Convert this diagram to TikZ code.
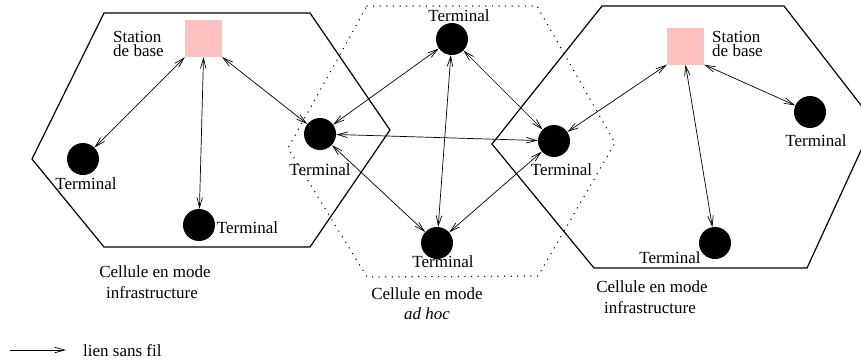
\documentclass[tikz,border=0pt]{standalone}
\usepackage{fontspec}
\setmainfont{Liberation Serif}
\usetikzlibrary{arrows.meta}
\definecolor{bspink}{RGB}{255,192,192}
\begin{document}
\begin{tikzpicture}[x=1pt,y=-1pt,
 cell/.style={line width=1.2pt, line join=miter},
 adhoc/.style={line width=1.5pt, dash pattern=on 0pt off 6.6pt, line cap=round},
 term/.style={circle, fill=black, inner sep=0pt, minimum size=32pt},
 bs/.style={fill=bspink, inner sep=0pt, minimum width=37pt, minimum height=37pt},
 lbl/.style={font=\fontsize{17}{14}\selectfont, inner sep=0pt, anchor=base},
 bslbl/.style={font=\fontsize{17}{14}\selectfont, inner sep=0pt, align=left, anchor=north west},
 link/.style={line width=0.7pt, {Straight Barb[length=10pt,width=5.5pt]}-{Straight Barb[length=10pt,width=5.5pt]}},
]
\useasboundingbox (0,0) rectangle (861,362);
\clip (0,0) rectangle (861,362);
% cells
\draw[cell] (104,13) -- (310,13) -- (390,130) -- (310,247) -- (104,247) -- (32,159) -- cycle;
\draw[cell] (602,6) -- (784,6) -- (874,122) -- (807,268) -- (594,268) -- (492,144) -- cycle;
\draw[adhoc] (367,6) -- (537,6) -- (615,143) -- (538,276) -- (367,277) -- (288,148) -- cycle;
% base stations
\node[bs] (bsl) at (203.5,38.5) {};
\node[bs] (bsr) at (685.5,46) {};
% terminals
\node[term] (t1) at (83,159) {};
\node[term] (t2) at (199,225) {};
\node[term] (t3) at (320,134) {};
\node[term] (t4) at (452,39) {};
\node[term] (t5) at (437,243) {};
\node[term] (t6) at (554,141) {};
\node[term] (t7) at (810,112) {};
\node[term] (t8) at (715,243) {};
% labels
\node[lbl] (l1) at (86,189) {Terminal};
\node[lbl] (l2) at (247.5,233) {Terminal};
\node[lbl] (l3) at (320,175) {Terminal};
\node[lbl] (l4) at (459,21) {Terminal};
\node[lbl] (l5) at (443,267) {Terminal};
\node[lbl] (l6) at (561.5,175) {Terminal};
\node[lbl] (l7) at (816,146) {Terminal};
\node[lbl] (l8) at (670,263) {Terminal};
\node[bslbl] (sl) at (113,31.5) {Station\\de base};
\node[bslbl] (sr) at (712,31.5) {Station\\de base};
\node[lbl] (cl1) at (155,277) {Cellule en mode};
\node[lbl] (cl2) at (152,298) {infrastructure};
\node[lbl] (ca1) at (427,299) {Cellule en mode};
\node[lbl] (ca2) at (427,319) {\itshape ad hoc};
\node[lbl] (cr1) at (652,292) {Cellule en mode};
\node[lbl] (cr2) at (650,313) {infrastructure};
% links
\draw[link] (bsl.south west) -- (t1);
\draw[link] (bsl.south) -- (t2);
\draw[link] (bsl.south east) -- (t3);
\draw[link] (t4) -- (t3);
\draw[link] (t3) -- (t6);
\draw[link] (t3) -- (t5);
\draw[link] (t4) -- (t5);
\draw[link] (t4) -- (t6);
\draw[link] (t5) -- (t6);
\draw[link] (bsr.south west) -- (t6);
\draw[link] (bsr.south) -- (t8);
\draw[link] (bsr.south east) -- (t7);
% legend
\coordinate (la) at (10,350);
\coordinate (lb) at (66,350);
\draw[line width=0.7pt, -{Straight Barb[length=10pt,width=5.5pt]}] (la) -- (lb);
\node[lbl, anchor=base west] (leg) at (83,356) {lien sans fil};
\end{tikzpicture}
\end{document}
